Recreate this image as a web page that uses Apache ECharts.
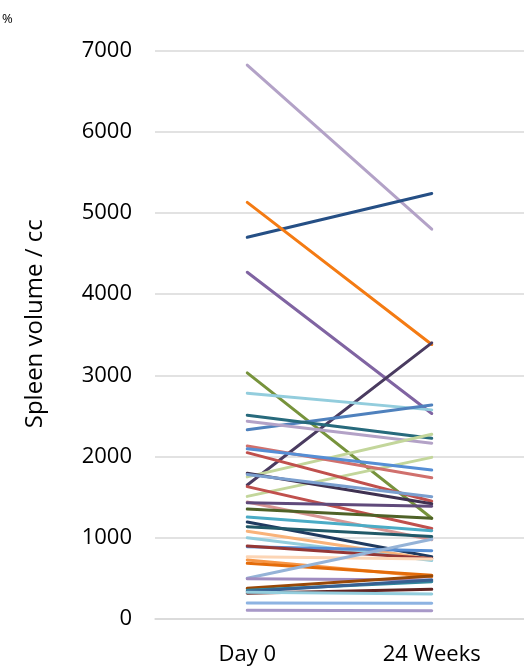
<!DOCTYPE html>
<html>
<head>
<meta charset="utf-8">
<script src="https://cdn.jsdelivr.net/npm/echarts@6/dist/echarts.min.js"></script>
<style>
  html, body { margin: 0; padding: 0; background: #fff; }
  #chart { width: 524px; height: 666px; }
</style>
</head>
<body>
<div id="chart"></div>
<script>
// Time points on the x axis
const categories = ['Day 0', '24 Weeks'];

// Spleen volume (cc) per patient at each time point
const day0 = [
  6820, 4700, 5130, 4270, 1650, 3030, 2780, 2330, 2510, 2435,
  1750, 1510, 2130, 2095, 2048, 1795, 1630, 1780, 1440, 1432,
  1355, 1255, 1195, 1137, 1080, 1000, 890, 900, 767, 727,
  686, 501, 497, 378, 355, 340, 316, 330, 197, 107
];
const week24 = [
  4800, 5240, 3380, 2530, 3400, 1240, 2575, 2635, 2225, 2165,
  2275, 1990, 1740, 1835, 1450, 1420, 1115, 1506, 975, 1388,
  1240, 1088, 767, 1015, 735, 720, 841, 745, 740, 520,
  540, 981, 480, 530, 460, 480, 366, 308, 193, 102
];

// Y axis range
const yMin = 0;
const yMax = 7000;
const yStep = 1000;

// One colour per patient line
const palette = [
  '#b3a2c7', '#254f85', '#f47b13', '#8064a2', '#4a3b60', '#77933c', '#93cddd', '#4f81bd', '#276a7c', '#b3a2c7',
  '#c3d69b', '#c3d69b', '#d0706d', '#558ed5', '#c0504d', '#3f3151', '#c0504d', '#7a9fcf', '#d99694', '#604a7b',
  '#4f6228', '#4bacc6', '#1f3a60', '#215968', '#f9b37a', '#93cddd', '#558ed5', '#953735', '#fcd5b5', '#f79646',
  '#e46c0a', '#95b3d7', '#a08cc0', '#984807', '#31859c', '#376092', '#632523', '#93cddd', '#8db3e2', '#a899c8'
];

const FONT = '"Open Sans", "Noto Sans", sans-serif';

const series = day0.map((v, i) => ({
  type: 'line',
  data: [v, week24[i]],
  symbol: 'none',
  silent: true,
  lineStyle: { width: 3, color: palette[i], cap: 'round' },
  itemStyle: { color: palette[i] }
}));

const chart = echarts.init(document.getElementById('chart'), null, { renderer: 'canvas' });
chart.setOption({
  animation: false,
  backgroundColor: '#ffffff',
  title: {
    text: '%',
    left: -3,
    top: 8,
    textStyle: { fontFamily: FONT, fontSize: 13, fontWeight: 'normal', color: '#000' }
  },
  grid: { left: 155, right: -11, top: 50.5, bottom: 47, containLabel: false },
  xAxis: {
    type: 'category',
    data: categories,
    boundaryGap: true,
    axisLine: { show: true, lineStyle: { color: '#d9d9d9', width: 1.5 } },
    axisTick: { show: false },
    axisLabel: { fontFamily: FONT, fontSize: 22, color: '#000', margin: 25 },
    splitLine: { show: false }
  },
  yAxis: {
    type: 'value',
    min: yMin,
    max: yMax,
    interval: yStep,
    name: 'Spleen volume / cc',
    nameLocation: 'middle',
    nameGap: 108,
    nameRotate: 90,
    nameTextStyle: { fontFamily: FONT, fontSize: 24, color: '#000', padding: [0, 0, 0, 22] },
    axisLine: { show: false },
    axisTick: { show: false },
    axisLabel: {
      fontFamily: FONT, fontSize: 22, color: '#000', margin: 23,
      formatter: (v) => String(v)
    },
    splitLine: { show: true, lineStyle: { color: '#d9d9d9', width: 1.5 } }
  },
  series: series
});
</script>
</body>
</html>
